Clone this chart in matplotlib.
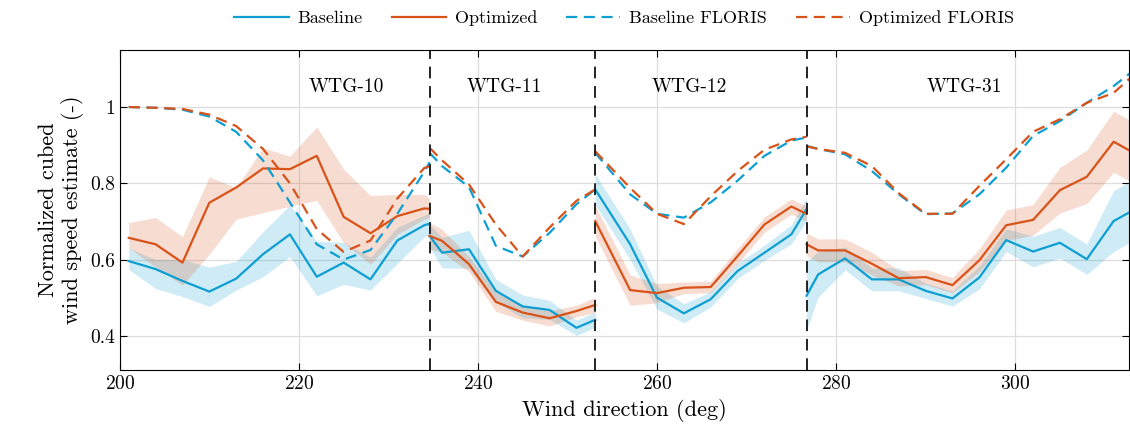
import numpy as np
import matplotlib
matplotlib.use("Agg")
import matplotlib.pyplot as plt

# wind direction per turbine sector
wd_10 = [201, 204, 207, 210, 213, 216, 219, 222, 225, 228, 231, 234, 234.6]
wd_11 = [234.6, 236, 239, 242, 245, 248, 251, 253.1]
wd_12 = [253.1, 257, 260, 263, 266, 269, 272, 275, 276.7]
wd_31 = [276.7, 278, 281, 284, 287, 290, 293, 296, 299, 302, 305, 308, 311, 314]

base_10 = [0.596, 0.575, 0.544, 0.516, 0.55, 0.614, 0.666, 0.555, 0.592, 0.548, 0.65, 0.69, 0.694]
base_10_lo = [0.574, 0.524, 0.503, 0.477, 0.52, 0.555, 0.608, 0.505, 0.535, 0.52, 0.59, 0.66, 0.665]
base_10_hi = [0.63, 0.6, 0.6, 0.58, 0.595, 0.673, 0.743, 0.648, 0.645, 0.606, 0.685, 0.716, 0.725]
opt_10 = [0.657, 0.64, 0.592, 0.749, 0.789, 0.839, 0.837, 0.872, 0.712, 0.669, 0.714, 0.734, 0.733]
opt_10_lo = [0.631, 0.58, 0.533, 0.614, 0.706, 0.723, 0.74, 0.755, 0.644, 0.588, 0.666, 0.706, 0.71]
opt_10_hi = [0.697, 0.71, 0.66, 0.817, 0.788, 0.893, 0.871, 0.948, 0.837, 0.768, 0.771, 0.77, 0.76]
fb_10 = [1.0, 0.998, 0.993, 0.975, 0.935, 0.86, 0.75, 0.64, 0.6, 0.625, 0.72, 0.83, 0.855]
fo_10 = [1.0, 0.998, 0.995, 0.98, 0.95, 0.89, 0.8, 0.68, 0.62, 0.65, 0.76, 0.84, 0.845]

base_11 = [0.662, 0.618, 0.627, 0.518, 0.477, 0.468, 0.421, 0.442]
base_11_err = [0.03, 0.04, 0.05, 0.03, 0.03, 0.025, 0.02, 0.02]
opt_11 = [0.662, 0.649, 0.588, 0.489, 0.461, 0.446, 0.465, 0.481]
opt_11_err = [0.035, 0.03, 0.02, 0.025, 0.02, 0.02, 0.015, 0.02]
fb_11 = [0.88, 0.845, 0.79, 0.636, 0.608, 0.67, 0.745, 0.784]
fo_11 = [0.893, 0.86, 0.797, 0.692, 0.608, 0.684, 0.754, 0.784]

base_12 = [0.784, 0.64, 0.5, 0.459, 0.496, 0.57, 0.618, 0.666, 0.732]
base_12_err = [0.04, 0.04, 0.03, 0.025, 0.02, 0.02, 0.02, 0.025, 0.03]
opt_12 = [0.701, 0.52, 0.512, 0.526, 0.528, 0.609, 0.692, 0.739, 0.72]
opt_12_err = [0.04, 0.04, 0.025, 0.015, 0.015, 0.02, 0.02, 0.02, 0.02]
fb_12 = [0.88, 0.771, 0.72, 0.71, 0.75, 0.807, 0.872, 0.912, 0.92]
fo_12 = [0.884, 0.788, 0.72, 0.693, 0.766, 0.832, 0.888, 0.915, 0.922]

base_31 = [0.505, 0.561, 0.603, 0.548, 0.548, 0.518, 0.498, 0.553, 0.651, 0.621, 0.644, 0.601, 0.701, 0.74]
base_31_err = [0.09, 0.06, 0.03, 0.03, 0.03, 0.02, 0.02, 0.03, 0.03, 0.04, 0.04, 0.04, 0.08, 0.08]
opt_31 = [0.64, 0.624, 0.624, 0.589, 0.551, 0.554, 0.533, 0.598, 0.69, 0.704, 0.782, 0.817, 0.909, 0.87]
opt_31_err = [0.03, 0.03, 0.03, 0.03, 0.02, 0.02, 0.02, 0.03, 0.04, 0.04, 0.06, 0.07, 0.08, 0.08]
fb_31 = [0.898, 0.89, 0.876, 0.832, 0.771, 0.719, 0.721, 0.771, 0.841, 0.924, 0.963, 1.011, 1.055, 1.11]
fo_31 = [0.897, 0.89, 0.88, 0.845, 0.774, 0.72, 0.72, 0.793, 0.863, 0.935, 0.968, 1.011, 1.037, 1.1]

boundaries = [234.6, 253.1, 276.7]
labels = [("WTG-10", 225.3), ("WTG-11", 243), ("WTG-12", 263.6), ("WTG-31", 294.3)]

plt.rcParams['font.family'] = 'serif'
plt.rcParams['font.serif'] = ['cmr10', 'DejaVu Serif']
plt.rcParams['mathtext.fontset'] = 'cm'
plt.rcParams['axes.formatter.use_mathtext'] = True

BLUE = '#0E9FD2'
ORANGE = '#D95319'

fig = plt.figure(figsize=(11.3, 4.37), dpi=100)
ax = fig.add_axes([0.106, 0.153, 0.893, 0.733])


def band(x, lo, hi, c):
    ax.fill_between(x, lo, hi, color=c, alpha=0.2, linewidth=0)


segs = [
    (wd_10, base_10, base_10_lo, base_10_hi, opt_10, opt_10_lo, opt_10_hi, fb_10, fo_10),
]
for wd, b, be, o, oe, fb, fo in [(wd_11, base_11, base_11_err, opt_11, opt_11_err, fb_11, fo_11),
                                  (wd_12, base_12, base_12_err, opt_12, opt_12_err, fb_12, fo_12),
                                  (wd_31, base_31, base_31_err, opt_31, opt_31_err, fb_31, fo_31)]:
    b, be, o, oe = map(np.array, (b, be, o, oe))
    segs.append((wd, b, b - be, b + be, o, o - oe, o + oe, fb, fo))

for i, (wd, b, blo, bhi, o, olo, ohi, fb, fo) in enumerate(segs):
    band(wd, blo, bhi, BLUE)
    band(wd, olo, ohi, ORANGE)
    first = i == 0
    ax.plot(wd, b, color=BLUE, lw=1.6, label='Baseline' if first else None)
    ax.plot(wd, o, color=ORANGE, lw=1.6, label='Optimized' if first else None)
    ax.plot(wd, fb, color=BLUE, lw=1.6, ls=(0, (5, 3)), label='Baseline FLORIS' if first else None)
    ax.plot(wd, fo, color=ORANGE, lw=1.6, ls=(0, (5, 3)), label='Optimized FLORIS' if first else None)

for xb in boundaries:
    ax.axvline(xb, color='#222222', lw=1.4, ls=(0, (6, 4)))
for name, xl in labels:
    ax.text(xl, 1.052, name, ha='center', va='center', fontsize=14)

ax.set_xlim(200, 312.7)
ax.set_ylim(0.31, 1.15)
ax.set_xticks([200, 220, 240, 260, 280, 300])
ax.set_yticks([0.4, 0.6, 0.8, 1.0])
ax.set_yticklabels(['0.4', '0.6', '0.8', '1'])
ax.tick_params(direction='in', labelsize=14, length=5, top=True, right=True)
ax.grid(True, color='#dddddd', lw=0.9)
ax.set_axisbelow(True)
ax.set_xlabel('Wind direction (deg)', fontsize=16)
ax.set_ylabel('Normalized cubed\nwind speed estimate (-)', fontsize=16)

ax.legend(loc='lower center', bbox_to_anchor=(0.5, 1.04), ncol=4, frameon=False,
          fontsize=13, handlelength=3.0, handletextpad=0.5, columnspacing=1.6, borderaxespad=0.2)

fig.savefig('out.png', dpi=100)
